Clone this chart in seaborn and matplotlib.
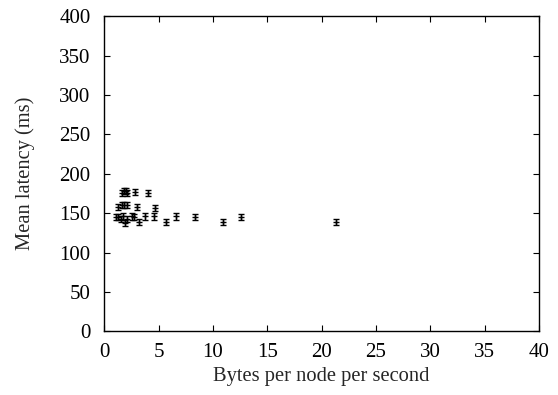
import matplotlib
matplotlib.use("Agg")
import matplotlib.pyplot as plt
import seaborn as sns
import pandas as pd

sns.set_style("ticks")
plt.rcParams["font.family"] = ["Liberation Serif", "DejaVu Serif"]

# Measured bandwidth (bytes per node per second) and mean latency (ms)
bytes_per_node = [1.6, 1.8, 2.0, 2.1, 2.8, 4.0,
                  1.3, 1.6, 1.8, 2.1, 3.0, 4.7,
                  1.1, 1.3, 1.5, 1.7, 1.9, 2.1, 2.5, 2.7, 3.2, 3.7,
                  4.6, 5.7, 6.6, 8.3, 10.9, 12.6, 21.3]
mean_latency = [176, 178, 178, 176, 177, 176,
                158, 160, 160, 160, 158, 157,
                145, 145, 143, 146, 138, 143, 146, 145, 139, 146,
                146, 139, 146, 145, 139, 145, 139]
latency_err = [4] * len(mean_latency)

df = pd.DataFrame({"bytes": bytes_per_node, "latency": mean_latency, "err": latency_err})

fig = plt.figure(figsize=(5.58, 3.95), dpi=100)
ax = fig.add_axes([0.187, 0.161, 0.779, 0.798])

ax.errorbar(df["bytes"], df["latency"], yerr=df["err"], fmt="none",
            ecolor="black", elinewidth=1.0, capsize=2.5, capthick=1.0)
sns.scatterplot(data=df, x="bytes", y="latency", marker="+", color="black",
                s=25, linewidth=1.0, ax=ax, legend=False)

ax.set_xlim(0, 40)
ax.set_ylim(0, 400)
ax.set_xticks(range(0, 41, 5))
ax.set_yticks(range(0, 401, 50))
ax.tick_params(direction="in", length=4.5, width=0.8, labelsize=15, colors="black",
               top=True, right=True)
ax.tick_params(axis="y", pad=10)
ax.tick_params(axis="x", pad=8)
for sp in ax.spines.values():
    sp.set_linewidth(1.0)
    sp.set_color("black")
ax.set_xlabel("Bytes per node per second", fontsize=14.8, labelpad=4)
ax.set_ylabel("Mean latency (ms)", fontsize=14.8, labelpad=17)

fig.savefig("out.png", dpi=100)
